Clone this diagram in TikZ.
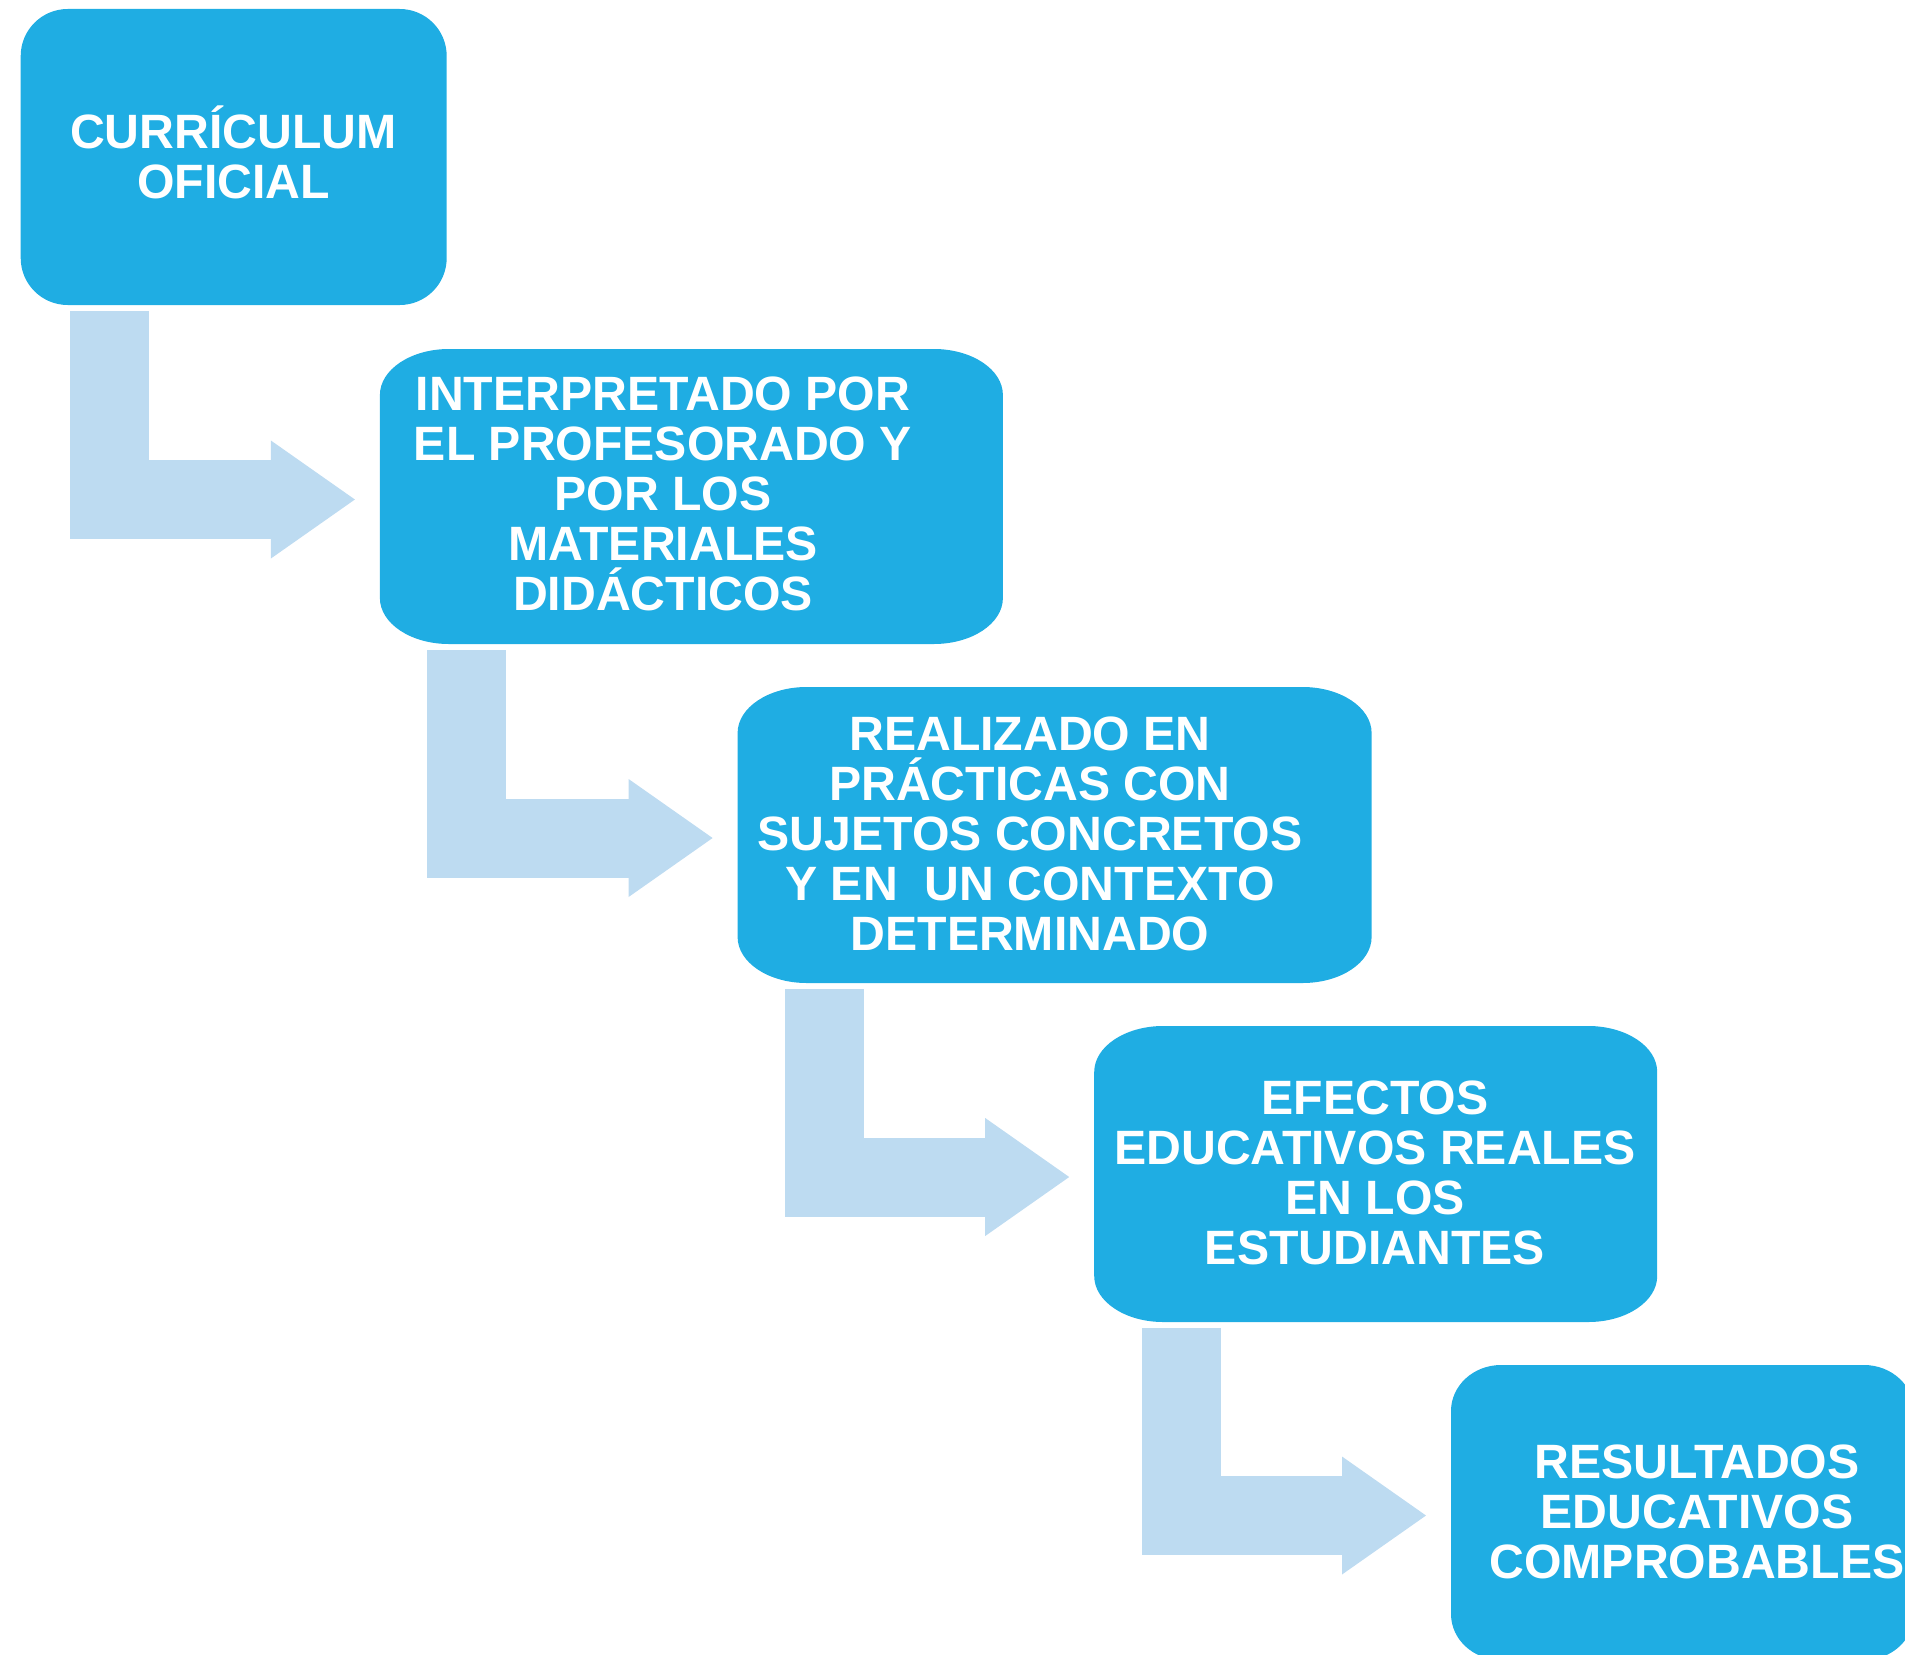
\documentclass[tikz,border=0pt]{standalone}
\usepackage{fontspec}
\setmainfont{Liberation Sans}
\usetikzlibrary{arrows.meta}

\definecolor{boxblue}{RGB}{31,173,227}
\definecolor{flowblue}{RGB}{189,219,241}

% box with elliptic corners: node, x radius, y radius
\newcommand{\ovalfill}[3]{%
  \fill[boxblue] ([xshift=#2pt]#1.north west) -- ([xshift=-#2pt]#1.north east)
    arc[start angle=90, end angle=0, x radius=#2pt, y radius=#3pt]
    -- ([yshift=#3pt]#1.south east)
    arc[start angle=0, end angle=-90, x radius=#2pt, y radius=#3pt]
    -- ([xshift=#2pt]#1.south west)
    arc[start angle=270, end angle=180, x radius=#2pt, y radius=#3pt]
    -- ([yshift=-#3pt]#1.north west)
    arc[start angle=180, end angle=90, x radius=#2pt, y radius=#3pt] -- cycle;}

\tikzset{
  stage/.style={draw=none, inner sep=0pt, outer sep=0pt},
  stagetext/.style={anchor=base, align=center, text=white, inner sep=0pt,
    font=\fontsize{48.2}{50}\selectfont\bfseries},
  flow/.style={draw=flowblue, line width=79, line join=miter,
    -{Triangle[length=84pt 0 0, width=118pt 0 0, line width=0pt 0 0]},
    shorten <=6, shorten >=25}
}

\begin{document}
\begin{tikzpicture}[x=1pt,y=-1pt]
  \useasboundingbox (0,0) rectangle (1905,1654);
  \clip (0,0) rectangle (1905,1654);
  \node[stage, minimum width=426, minimum height=296] (b1) at (233.7,157) {};
  \node[stage, minimum width=623, minimum height=295] (b2) at (691.4,496.5) {};
  \node[stage, minimum width=634, minimum height=296] (b3) at (1054.6,835) {};
  \node[stage, minimum width=563, minimum height=296] (b4) at (1375.7,1174) {};
  \node[stage, minimum width=463, minimum height=295] (b5) at (1682.5,1512.5) {};
  \ovalfill{b1}{47}{47}
  \ovalfill{b2}{69}{46}
  \ovalfill{b3}{69}{46}
  \ovalfill{b4}{69}{46}
  \ovalfill{b5}{50}{46}
  \node[stagetext] (t1) at (233.5,198) {CURRÍCULUM\\OFICIAL};
  \node[stagetext] (t2) at (663,610.7) {INTERPRETADO POR\\EL PROFESORADO Y\\POR LOS\\MATERIALES\\DIDÁCTICOS};
  \node[stagetext] (t3) at (1030,950) {REALIZADO EN\\PRÁCTICAS CON\\SUJETOS CONCRETOS\\Y EN\ \ UN CONTEXTO\\DETERMINADO};
  \node[stagetext] (t4) at (1375,1264) {EFECTOS\\EDUCATIVOS REALES\\EN LOS\\ESTUDIANTES};
  \node[stagetext] (t5) at (1697,1578) {RESULTADOS\\EDUCATIVOS\\COMPROBABLES};
  \draw[flow] ([xshift=89]b1.south west) |- ([yshift=-3]b2.west); % 1 -- 2
  \draw[flow] ([xshift=87]b2.south west) |- ([yshift=-3]b3.west); % 2 -- 3
  \draw[flow] ([xshift=87]b3.south west) |- ([yshift=-3]b4.west); % 3 -- 4
  \draw[flow] ([xshift=87]b4.south west) |- ([yshift=-3]b5.west); % 4 -- 5
\end{tikzpicture}
\end{document}
